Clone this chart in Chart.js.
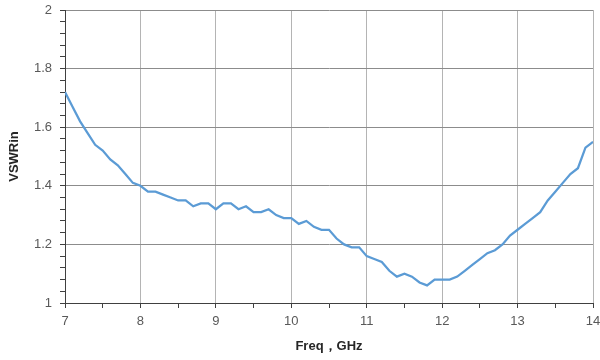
<!DOCTYPE html>
<html>
<head>
<meta charset="utf-8">
<script src="https://cdn.jsdelivr.net/npm/chart.js@4"></script>
<style>
  html, body { margin: 0; padding: 0; background: #fff; }
  #wrap { width: 600px; height: 360px; }
</style>
</head>
<body>
<div id="wrap"><canvas id="vswrChart"></canvas></div>
<script>
// Frecuencias (GHz) y valores VSWR
const freqs = [7.0, 7.1, 7.2, 7.3, 7.4, 7.5, 7.6, 7.7, 7.8, 7.9,
  8.0, 8.1, 8.2, 8.3, 8.4, 8.5, 8.6, 8.7, 8.8, 8.9,
  9.0, 9.1, 9.2, 9.3, 9.4, 9.5, 9.6, 9.7, 9.8, 9.9,
  10.0, 10.1, 10.2, 10.3, 10.4, 10.5, 10.6, 10.7, 10.8, 10.9,
  11.0, 11.1, 11.2, 11.3, 11.4, 11.5, 11.6, 11.7, 11.8, 11.9,
  12.0, 12.1, 12.2, 12.3, 12.4, 12.5, 12.6, 12.7, 12.8, 12.9,
  13.0, 13.1, 13.2, 13.3, 13.4, 13.5, 13.6, 13.7, 13.8, 13.9, 14.0];
const vswr = [1.72, 1.67, 1.62, 1.58, 1.54, 1.52, 1.49, 1.47, 1.44, 1.41,
  1.40, 1.38, 1.38, 1.37, 1.36, 1.35, 1.35, 1.33, 1.34, 1.34,
  1.32, 1.34, 1.34, 1.32, 1.33, 1.31, 1.31, 1.32, 1.30, 1.29,
  1.29, 1.27, 1.28, 1.26, 1.25, 1.25, 1.22, 1.20, 1.19, 1.19,
  1.16, 1.15, 1.14, 1.11, 1.09, 1.10, 1.09, 1.07, 1.06, 1.08,
  1.08, 1.08, 1.09, 1.11, 1.13, 1.15, 1.17, 1.18, 1.20, 1.23,
  1.25, 1.27, 1.29, 1.31, 1.35, 1.38, 1.41, 1.44, 1.46, 1.53, 1.55];

// Ejes
const xMin = 7, xMax = 14, xMinorStep = 0.5;
const yMin = 1, yMax = 2, yMinorStep = 0.04, yMajorStep = 0.2;
const xTitle = 'Freq，GHz';
const yTitle = 'VSWRin';

const fontFamily = "'Liberation Sans', Arial, sans-serif";
const isMultiple = (v, step) => Math.abs(v / step - Math.round(v / step)) < 1e-6;

new Chart(document.getElementById('vswrChart'), {
  type: 'line',
  data: {
    datasets: [{
      label: yTitle,
      data: freqs.map((f, i) => ({ x: f, y: vswr[i] })),
      borderColor: '#5B9BD5',
      borderWidth: 2.25,
      pointRadius: 0,
      tension: 0,
      fill: false
    }]
  },
  options: {
    responsive: true,
    maintainAspectRatio: false,
    animation: false,
    layout: { padding: { top: 10, right: 7, left: 0, bottom: 0 } },
    plugins: {
      legend: { display: false },
      tooltip: { enabled: false }
    },
    scales: {
      x: {
        type: 'linear',
        min: xMin,
        max: xMax,
        afterFit: scale => {
          scale.height = 57;
          scale.paddingLeft = 0;
          scale.paddingRight = 0;
        },
        ticks: {
          stepSize: xMinorStep,
          autoSkip: false,
          maxRotation: 0,
          padding: 6,
          color: '#595959',
          font: { family: fontFamily, size: 13 },
          callback: v => isMultiple(v, 1) ? String(v) : ''
        },
        grid: {
          color: ctx => isMultiple(ctx.tick.value, 1) ? '#b4b4b4' : 'rgba(0,0,0,0)',
          tickColor: '#404040',
          tickLength: 5,
          lineWidth: 1
        },
        border: { color: '#404040', width: 1 },
        title: {
          display: true,
          text: xTitle,
          color: '#262626',
          font: { family: fontFamily, size: 13, weight: 'bold' },
          padding: { top: 0, bottom: 6 }
        }
      },
      y: {
        min: yMin,
        max: yMax,
        afterFit: scale => {
          scale.width = 65;
          scale.paddingTop = 0;
          scale.paddingBottom = 0;
        },
        ticks: {
          stepSize: yMinorStep,
          autoSkip: false,
          padding: 8,
          color: '#595959',
          font: { family: fontFamily, size: 13 },
          callback: v => isMultiple(v, yMajorStep) ? String(Math.round(v * 10) / 10) : ''
        },
        grid: {
          color: ctx => isMultiple(ctx.tick.value, yMajorStep) ? '#8c8c8c' : 'rgba(0,0,0,0)',
          tickColor: '#404040',
          tickLength: 5,
          lineWidth: 1
        },
        border: { color: '#404040', width: 1 },
        title: {
          display: true,
          text: yTitle,
          color: '#262626',
          font: { family: fontFamily, size: 13, weight: 'bold' },
          padding: { top: 7, bottom: 0 }
        }
      }
    }
  }
});
</script>
</body>
</html>
